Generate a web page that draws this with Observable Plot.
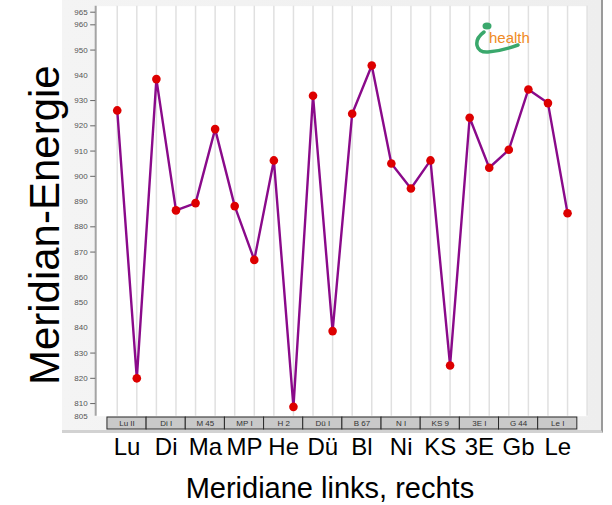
<!DOCTYPE html>
<html><head><meta charset="utf-8">
<script src="https://cdn.jsdelivr.net/npm/d3@7"></script>
<script src="https://cdn.jsdelivr.net/npm/@observablehq/plot@0.6"></script>
<style>
body{margin:0;background:#fff;font-family:"Liberation Sans",Arial,sans-serif;}
#wrap{position:relative;width:612px;height:505px;overflow:hidden;}
#panel{position:absolute;left:62px;top:0;width:539px;height:430px;background:linear-gradient(90deg,#f4f4f4,#eeeeee);border-right:2px solid #9a9a9a;border-bottom:3px solid #d2d2d2;}
#chart{position:absolute;left:0;top:0;}
#logo{position:absolute;left:470px;top:18px;}
</style></head><body>
<div id="wrap"><div id="panel"></div><div id="chart"></div>
<svg id="logo" width="80" height="40" viewBox="0 0 80 40">
  <ellipse cx="17" cy="8" rx="4.5" ry="3.5" fill="#3aa86c"/>
  <path d="M14,14 C3,22 5,35 18,34 C30,33 40,30 48,27" fill="none" stroke="#3aa86c" stroke-width="3.5" stroke-linecap="round"/>
  <text x="19" y="25" font-size="15" fill="#f08a24" font-family="Liberation Sans, Arial, sans-serif">health</text>
</svg>
</div>
<script>
const meridians = ["Lu","Di","Ma","MP","He","Dü","Bl","Ni","KS","3E","Gb","Le"];
const points = ["Lu II","Di I","M 45","MP I","H 2","Dü I","B 67","N I","KS 9","3E I","G 44","Le I"];
const links = [926.1, 938.5, 889.4, 888.2, 906.3, 931.9, 924.8, 905.1, 906.3, 923.2, 910.5, 929.0];
const rechts = [820.0, 886.5, 918.7, 866.9, 808.7, 838.7, 943.9, 895.2, 825.1, 903.4, 934.4, 885.4];
const yTicks = [965,960,950,940,930,920,910,900,890,880,870,860,850,840,830,820,810,805];
const yTicksMarked = [965,960,950,930,920,910,900,880,870,830,820,810];
const yTitle = "Meridian-Energie";
const xTitle = "Meridiane links, rechts";

const series = meridians.flatMap((m, k) => [
  {i: 2*k, m, side: "links", v: links[k]},
  {i: 2*k + 1, m, side: "rechts", v: rechts[k]}
]);
const groups = meridians.map((m, k) => ({k, m, p: points[k]}));

const W = 612, H = 505, mT = 11.7, mB = 89.3;
const yMin = 805, yMax = 965;
const pxPerUnit = (H - mB - mT) / (yMax - yMin);
const pxToY = px => yMax - (px - mT) / pxPerUnit;
const font = "Liberation Sans, Arial, sans-serif";

const chart = Plot.plot({
  width: W, height: H,
  marginTop: mT, marginBottom: mB, marginLeft: 95.2, marginRight: 24.4,
  style: {background: "transparent", fontFamily: font},
  x: {domain: [-1.1, 24.05], axis: null},
  y: {domain: [yMin, yMax], axis: null},
  marks: [
    Plot.frame({fill: "white", stroke: null, insetTop: -6}),
    Plot.ruleX(d3.range(0, 25), {stroke: "#e0e0e0", strokeWidth: 1.5, insetTop: -6}),
    Plot.ruleX([-1.1], {stroke: "#a4a4a4", strokeWidth: 2, insetTop: -6}),
    Plot.axisY({ticks: yTicks, tickSize: 0, tickPadding: 8, fontSize: 8, fill: "#555", label: null}),
    Plot.axisY({ticks: yTicksMarked, tickSize: 5, tickFormat: () => "", stroke: "#666", label: null}),
    Plot.line(series, {x: "i", y: "v", stroke: "#8a0a8a", strokeWidth: 2.4}),
    Plot.dot(series, {x: "i", y: "v", r: 4.3, fill: "#dd0000", stroke: null}),
    Plot.rect(groups, {x1: d => 2*d.k - 0.5, x2: d => 2*d.k + 1.5, y1: pxToY(417), y2: pxToY(429),
      fill: "#c9c9c9", stroke: "#2a2a2a", strokeWidth: 1}),
    Plot.text(groups, {x: d => 2*d.k + 0.5, frameAnchor: "bottom", lineAnchor: "middle", dy: 7, text: "p", fontSize: 8, fill: "#333"}),
    Plot.text(groups, {x: d => 2*d.k + 0.5, frameAnchor: "bottom", lineAnchor: "middle", dy: 31, text: "m", fontSize: 24, fill: "#000"}),
    Plot.text([xTitle], {frameAnchor: "bottom", lineAnchor: "middle", textAnchor: "middle", dx: -12, dy: 73, text: d => d, fontSize: 29, fill: "#000"}),
    Plot.text([yTitle], {frameAnchor: "left", textAnchor: "middle", lineAnchor: "middle", dx: -50, dy: 11, rotate: -90, text: d => d, fontSize: 42, fill: "#000"})
  ]
});
document.getElementById("chart").appendChild(chart);
</script>
</body></html>
